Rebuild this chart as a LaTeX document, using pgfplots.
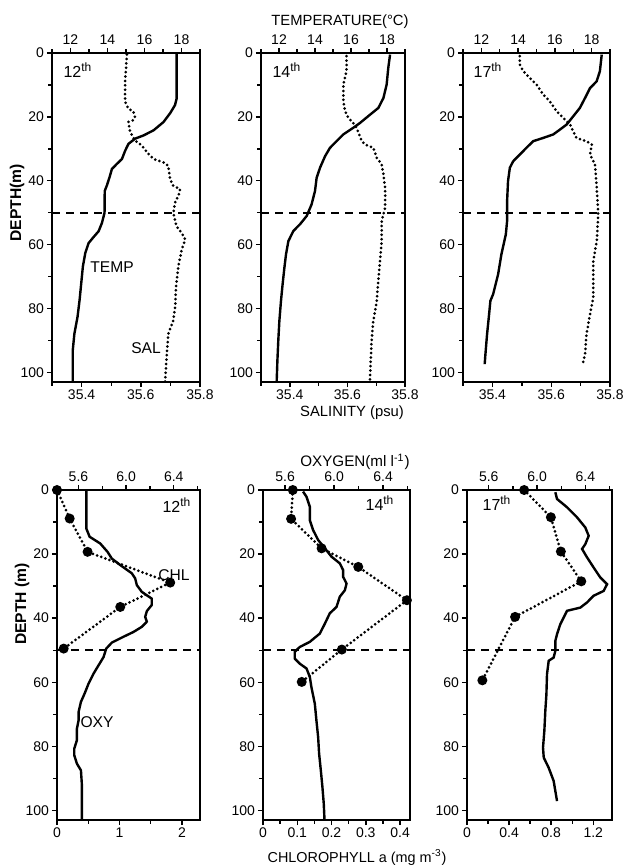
\documentclass[border=0pt]{standalone}
\usepackage{fontspec}
\setmainfont{Liberation Sans}
\usepackage{pgfplots}
\pgfplotsset{compat=1.18}

\pgfplotsset{
  every axis/.append style={
    scale only axis, anchor=north west,
    y dir=reverse, ymin=0, ymax=103,
    tick align=outside, major tick length=2.6pt, minor tick length=1.8pt,
    every tick/.style={black, line width=0.7pt},
    axis line style={line width=1.1pt},
    tick label style={font=\fontsize{7}{8}\selectfont, inner sep=1.2pt},
  },
  lower/.style={
    ytick={0,20,...,100}, minor ytick={10,30,...,90},
    yticklabels={0,20,40,60,80,100},
    xtick pos=bottom, ytick pos=left,
  },
  upper/.style={hide y axis, axis x line*=top, axis line style={line width=1.1pt}},
  solidline/.style={black, line width=1.2pt},
  dotline/.style={black, line width=1.5pt, line cap=round, dash pattern=on 0pt off 2.2pt},
  chlline/.style={black, line width=1.5pt, line cap=round, dash pattern=on 0pt off 2.2pt,
    mark=*, mark size=1.7pt, mark options={solid, fill=black}},
  depthline/.style={black, line width=0.8pt, dash pattern=on 4pt off 3pt},
}

\begin{document}
\begin{tikzpicture}
\path[use as bounding box] (0,0) rectangle (311.5pt,-432.5pt);

% ---------------- top row: salinity (bottom) / temperature (top)
% 12th
\begin{axis}[lower, at={(26pt,-26.5pt)}, width=74pt, height=164.5pt,
  xmin=35.3, xmax=35.8, xtick={35.4,35.6,35.8}, xticklabels={35.4,35.6,35.8},
  minor xtick={35.3,35.5,35.7}]
\addplot[dotline] coordinates {
 (35.553,0.5) (35.547,8.9) (35.547,15.3) (35.558,17.4) (35.575,18.4) (35.580,20)
 (35.575,21) (35.558,21.6) (35.564,24.7) (35.580,27.4) (35.603,28.9) (35.620,31)
 (35.643,33.2) (35.676,34.2) (35.693,35.3) (35.699,39.5) (35.710,41.6) (35.733,42.6)
 (35.727,44.7) (35.716,46.8) (35.710,50) (35.720,54.2) (35.738,56.3) (35.750,58.4)
 (35.738,61.6) (35.727,66.8) (35.719,73.2) (35.716,79.5) (35.710,83.7) (35.693,87.9)
 (35.688,94.2) (35.682,103)};
\addplot[depthline] coordinates {(35.3,50) (35.8,50)};
\end{axis}
\begin{axis}[upper, at={(26pt,-26.5pt)}, width=74pt, height=164.5pt,
  xmin=11, xmax=19, xtick={12,14,16,18}, xticklabels={12,14,16,18},
  minor xtick={11,13,15,17,19}]
\addplot[solidline] coordinates {
 (17.74,0) (17.74,14.2) (17.65,16.3) (17.38,18.9) (17.03,21.6) (16.49,24.2)
 (15.95,25.8) (15.50,26.8) (15.14,28.4) (14.96,30.5) (14.78,33.2) (14.51,34.7)
 (14.24,36.3) (14.11,38.9) (13.97,41.4) (13.85,43.2) (13.84,50.0) (13.70,53.2)
 (13.52,55.8) (13.25,57.6) (12.98,59.5) (12.80,62.6) (12.67,66.8) (12.58,72.1)
 (12.49,77.4) (12.38,82.6) (12.21,87.9) (12.12,93.2) (12.12,103)};
\end{axis}

% 14th
\begin{axis}[lower, at={(130.5pt,-26.5pt)}, width=72pt, height=164.5pt,
  xmin=35.3, xmax=35.8, xtick={35.4,35.6,35.8}, xticklabels={35.4,35.6,35.8},
  minor xtick={35.3,35.5,35.7}]
\addplot[dotline] coordinates {
 (35.597,1) (35.597,5.7) (35.586,9.9) (35.586,15.1) (35.592,18.2) (35.603,20.3)
 (35.620,21.9) (35.632,23.4) (35.650,27.6) (35.661,28.6) (35.690,29.7) (35.702,32.8)
 (35.719,34.9) (35.725,38) (35.731,42.2) (35.731,48.4) (35.719,52.6) (35.719,58.9)
 (35.713,65.1) (35.707,71.4) (35.702,77.6) (35.690,83.9) (35.684,90.1) (35.681,96.4)
 (35.678,103)};
\addplot[depthline] coordinates {(35.3,50) (35.8,50)};
\end{axis}
\begin{axis}[upper, at={(130.5pt,-26.5pt)}, width=72pt, height=164.5pt,
  xmin=11, xmax=19, xtick={12,14,16,18}, xticklabels={12,14,16,18},
  minor xtick={11,13,15,17,19}]
\addplot[solidline] coordinates {
 (18.17,0.5) (18.07,4.7) (17.98,9.9) (17.80,14.1) (17.52,17.2) (17.06,19.3)
 (16.50,21.9) (16.13,23.4) (15.57,25.5) (15.20,27.6) (14.83,29.7) (14.56,32.3)
 (14.28,35.9) (14.09,39.1) (14.00,43.2) (13.81,47.4) (13.54,51) (13.17,53.6)
 (12.80,55.7) (12.52,58.9) (12.39,63.0) (12.30,67.2) (12.20,72.4) (12.11,77.6)
 (12.02,83.9) (11.96,90.1) (11.91,96.4) (11.87,103)};
\end{axis}

% 17th
\begin{axis}[lower, at={(231.5pt,-26.5pt)}, width=73.5pt, height=164.5pt,
  xmin=35.3, xmax=35.8, xtick={35.4,35.6,35.8}, xticklabels={35.4,35.6,35.8},
  minor xtick={35.3,35.5,35.7}]
\addplot[dotline] coordinates {
 (35.493,1) (35.493,3.6) (35.505,5.7) (35.527,7.8) (35.550,9.9) (35.573,13)
 (35.595,15.1) (35.618,18.2) (35.641,20.3) (35.664,22.4) (35.675,24.5) (35.686,26.6)
 (35.720,27.6) (35.738,28.6) (35.732,31.8) (35.749,34.9) (35.755,42.2) (35.760,50.5)
 (35.755,58.9) (35.743,65.1) (35.743,76.6) (35.732,81.8) (35.720,88) (35.715,94.3)
 (35.707,97.4)};
\addplot[depthline] coordinates {(35.3,50) (35.8,50)};
\end{axis}
\begin{axis}[upper, at={(231.5pt,-26.5pt)}, width=73.5pt, height=164.5pt,
  xmin=11, xmax=19, xtick={12,14,16,18}, xticklabels={12,14,16,18},
  minor xtick={11,13,15,17,19}]
\addplot[solidline] coordinates {
 (18.55,0.5) (18.45,5.7) (18.27,8.9) (17.91,11) (17.64,14.1) (17.36,17.2)
 (17.00,19.8) (16.64,22.4) (16.27,24) (15.91,25.5) (15.36,26.6) (14.82,27.6)
 (14.45,29.7) (14.09,31.8) (13.73,33.9) (13.55,35.9) (13.45,40.1) (13.40,46.4)
 (13.40,52.6) (13.33,56.8) (13.09,63) (12.91,69.3) (12.64,75.5) (12.49,77.6)
 (12.42,81.8) (12.31,88) (12.22,94.3) (12.18,97.4)};
\end{axis}

% ---------------- bottom row: chlorophyll (bottom) / oxygen (top)
% 12th
\begin{axis}[lower, at={(28.5pt,-245pt)}, width=71.5pt, height=165pt,
  xmin=0, xmax=2.29, xtick={0,1,2}, xticklabels={0,1,2}, minor xtick={0.5,1.5}]
\addplot[chlline] coordinates {
 (0,0) (0.203,8.9) (0.49,19.3) (1.813,28.9) (1.013,36.5) (0.107,49.5)};
\addplot[depthline] coordinates {(0,50) (2.29,50)};
\end{axis}
\begin{axis}[upper, at={(28.5pt,-245pt)}, width=71.5pt, height=165pt,
  xmin=5.42, xmax=6.62, xtick={5.6,6.0,6.4}, xticklabels={5.6,6.0,6.4},
  minor xtick={5.8,6.2,6.6}]
\addplot[solidline] coordinates {
 (5.666,0) (5.666,12) (5.694,14.6) (5.783,16.7) (5.844,19.3) (5.880,21.4)
 (5.950,23.4) (6.048,26) (6.076,27.6) (6.090,29.7) (6.132,31.8) (6.215,33.9)
 (6.215,35.9) (6.174,37.8) (6.160,39.6) (6.174,41.1) (6.132,42.7) (6.062,44.3)
 (5.978,45.8) (5.881,47.6) (5.833,49.5) (5.811,52.1) (5.769,54.7) (5.727,57.3)
 (5.685,60.4) (5.652,63.5) (5.621,66.1) (5.601,69.3) (5.601,71.9) (5.587,74.5)
 (5.587,78.1) (5.565,80.7) (5.565,82.8) (5.587,85.4) (5.621,87.5) (5.629,92.2)
 (5.629,103)};
\end{axis}

% 14th
\begin{axis}[lower, at={(131.5pt,-245pt)}, width=73.5pt, height=165pt,
  xmin=0, xmax=0.429, xtick={0,0.1,0.2,0.3,0.4}, xticklabels={0,0.1,0.2,0.3,0.4},
  minor xtick={0.05,0.15,0.25,0.35}]
\addplot[chlline] coordinates {
 (0.087,0) (0.082,9) (0.171,18.2) (0.278,24) (0.42,34.4) (0.23,49.8) (0.113,59.9)};
\addplot[depthline] coordinates {(0,50) (0.429,50)};
\end{axis}
\begin{axis}[upper, at={(131.5pt,-245pt)}, width=73.5pt, height=165pt,
  xmin=5.42, xmax=6.62, xtick={5.6,6.0,6.4}, xticklabels={5.6,6.0,6.4},
  minor xtick={5.8,6.2,6.6}]
\addplot[solidline] coordinates {
 (5.747,0.5) (5.775,2.1) (5.802,5.2) (5.802,9.4) (5.829,12.5) (5.870,15.6)
 (5.925,18.2) (5.979,20.8) (6.047,22.9) (6.074,25) (6.074,27.1) (6.102,29.2)
 (6.088,31.3) (6.047,33.3) (6.020,36.5) (5.965,38.5) (5.925,41.7) (5.884,44.8)
 (5.802,47.4) (5.720,49) (5.679,50.5) (5.679,52.6) (5.720,54.2) (5.775,55.7)
 (5.802,58.3) (5.815,61.5) (5.843,66.7) (5.856,71.9) (5.870,77.1) (5.878,82.3)
 (5.892,87.5) (5.905,92.7) (5.916,97.9) (5.922,103)};
\end{axis}

% 17th
\begin{axis}[lower, at={(233.5pt,-245pt)}, width=72.5pt, height=165pt,
  xmin=0, xmax=1.378, xtick={0,0.4,0.8,1.2}, xticklabels={0,0.4,0.8,1.2},
  minor xtick={0.2,0.6,1.0}]
\addplot[chlline] coordinates {
 (0.543,0) (0.797,8.5) (0.892,19.2) (1.086,28.5) (0.457,39.6) (0.146,59.4)};
\addplot[depthline] coordinates {(0,50) (1.378,50)};
\end{axis}
\begin{axis}[upper, at={(233.5pt,-245pt)}, width=72.5pt, height=165pt,
  xmin=5.42, xmax=6.62, xtick={5.6,6.0,6.4}, xticklabels={5.6,6.0,6.4},
  minor xtick={5.8,6.2,6.6}]
\addplot[solidline] coordinates {
 (6.151,0.7) (6.165,2.8) (6.248,5.4) (6.330,8.5) (6.399,11.7) (6.427,14.3)
 (6.399,16.9) (6.372,18.4) (6.413,21) (6.468,24.2) (6.523,27.3) (6.579,29.4)
 (6.551,31.5) (6.468,33) (6.413,35.1) (6.358,36.7) (6.248,37.7) (6.220,39.8)
 (6.192,41.9) (6.165,45) (6.151,47.1) (6.151,50.2) (6.137,52.3) (6.096,53.3)
 (6.082,57.5) (6.077,63.8) (6.068,69) (6.060,75.2) (6.049,80.4) (6.055,83.5)
 (6.096,86.7) (6.137,90.8) (6.165,97.1)};
\end{axis}

% ---------------- texts
\begin{scope}[every node/.style={inner sep=0pt}]
\node[font=\fontsize{7.4}{8}\selectfont] at (170pt,-11pt) {TEMPERATURE(°C)};
\node[font=\fontsize{7.4}{8}\selectfont] at (176pt,-206.5pt) {SALINITY (psu)};
\node[font=\fontsize{7.6}{8}\selectfont] at (177.5pt,-231pt) {OXYGEN(ml l\textsuperscript{-1})};
\node[font=\fontsize{7.2}{8}\selectfont] at (178.5pt,-428.5pt) {CHLOROPHYLL a (mg m\textsuperscript{-3})};
\node[font=\bfseries\fontsize{7.8}{8}\selectfont, rotate=90] at (8.5pt,-101.5pt) {DEPTH(m)};
\node[font=\bfseries\fontsize{7.8}{8}\selectfont, rotate=90] at (11pt,-302pt) {DEPTH (m)};
\node[font=\fontsize{8}{9}\selectfont] at (39pt,-35pt) {12\textsuperscript{th}};
\node[font=\fontsize{8}{9}\selectfont] at (143.5pt,-35pt) {14\textsuperscript{th}};
\node[font=\fontsize{8}{9}\selectfont] at (244pt,-35pt) {17\textsuperscript{th}};
\node[font=\fontsize{8}{9}\selectfont] at (88.5pt,-252.5pt) {12\textsuperscript{th}};
\node[font=\fontsize{8}{9}\selectfont] at (190pt,-251.5pt) {14\textsuperscript{th}};
\node[font=\fontsize{8}{9}\selectfont] at (248.5pt,-251.5pt) {17\textsuperscript{th}};
\node[font=\fontsize{7.8}{9}\selectfont] at (56pt,-133.5pt) {TEMP};
\node[font=\fontsize{7.8}{9}\selectfont] at (73pt,-174pt) {SAL};
\node[font=\fontsize{7.8}{9}\selectfont] at (87pt,-287.5pt) {CHL};
\node[font=\fontsize{7.8}{9}\selectfont] at (48.5pt,-361pt) {OXY};
\end{scope}
\end{tikzpicture}
\end{document}
